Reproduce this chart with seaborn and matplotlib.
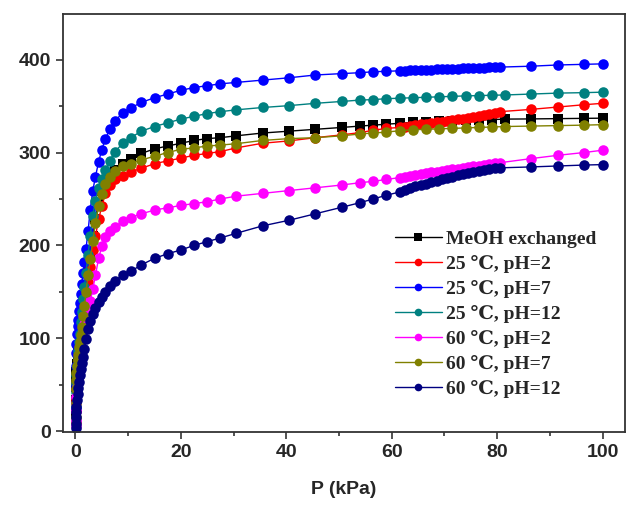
import matplotlib
matplotlib.use("Agg")
import matplotlib.pyplot as plt
import seaborn as sns
import pandas as pd
from matplotlib.ticker import MultipleLocator
from matplotlib.font_manager import FontProperties

# ---------------- data ----------------
labels = ["MeOH exchanged", "25 \u2103, pH=2", "25 \u2103, pH=7", "25 \u2103, pH=12",
          "60 \u2103, pH=2", "60 \u2103, pH=7", "60 \u2103, pH=12"]
colors = ["#000000", "#FF0000", "#0000FF", "#008080", "#FF00FF", "#808000", "#000080"]
markers_list = ["s", "o", "o", "o", "o", "o", "o"]

P_low = [0.02, 0.05, 0.1, 0.15, 0.2, 0.3, 0.4, 0.5, 0.65, 0.8, 1.0, 1.2, 1.45, 1.7,
         2.0, 2.4, 2.8, 3.3, 3.8, 4.4, 5.0, 5.7, 6.5, 7.5, 9.0, 10.5, 12.5, 15, 17.5,
         20, 22.5, 25, 27.5, 30.5, 35.5, 40.5, 45.5, 50.5, 54, 56.5, 59]
P_dense_tail = [61.5, 62.5, 63.5, 64.5, 65.5, 66.5, 67.5, 68.5, 69.5, 70.5, 71.5, 72.5,
                73.5, 74.5, 75.5, 76.5, 77.5, 78.5, 79.5, 80.5, 86.5, 91.5, 96.5, 100]
P_sparse_tail = [61.5, 64, 66.5, 69, 71.5, 74, 76.5, 79, 81.5, 86.5, 91.5, 96.5, 100]

q_meoh = [18, 33, 47, 57, 64, 72, 78, 84, 92, 98, 106, 116, 128, 140, 154, 172, 190, 210,
          228, 246, 259, 268, 275, 281, 288, 293, 299, 304, 307, 310, 313, 315, 316, 318,
          321, 323, 325, 327, 328.5, 329.5, 330.5,
          331.5, 332.5, 333, 333.5, 334, 334.5, 335, 335.5, 336, 336.2, 336.5, 336.8, 337]
q_25_ph2 = [10, 22, 35, 45, 52, 62, 70, 76, 84, 92, 100, 110, 120, 131, 143, 160, 177, 195,
            210, 228, 242, 256, 265, 271, 275, 279, 283, 288, 291, 294, 297, 299, 301, 305,
            310, 312.5, 316, 319, 321.5, 324, 326,
            327, 327.8, 328.6, 329.4, 330.2, 331, 331.8, 332.6, 333.4, 334.2, 335, 335.8,
            336.6, 337.4, 338.2, 339.5, 340.5, 341.5, 342.8, 344, 346.5, 349, 351.5, 353]
q_25_ph7 = [25, 48, 70, 84, 94, 105, 113, 120, 129, 138, 148, 158, 170, 182, 196, 215, 238,
            259, 274, 290, 303, 315, 325, 334, 343, 348, 354, 359, 363, 367, 370, 372, 374,
            375.5, 378, 380.5, 383.5, 385, 386, 387, 387.5,
            388, 388.3, 388.5, 388.8, 389, 389.2, 389.4, 389.6, 389.8, 390, 390.2, 390.4,
            390.6, 390.8, 391, 391.2, 391.4, 391.6, 391.8, 392, 393, 394.3, 395, 395.5]
q_25_ph12 = [12, 28, 42, 52, 60, 70, 78, 86, 96, 105, 117, 128, 142, 155, 170, 190, 210,
             232, 248, 262, 272, 281, 291, 301, 310, 316, 323, 328, 332, 336, 339, 342, 344,
             346, 348.5, 350.5, 353, 355, 356.5, 357, 358,
             358.5, 359, 359.5, 360, 360.5, 361, 361.3, 361.7, 362, 363, 364, 364.5, 365]
q_60_ph2 = [5, 12, 22, 30, 37, 47, 55, 62, 72, 80, 90, 98, 107, 115, 122, 131, 140, 153,
            168, 186, 199, 209, 215, 220, 226, 230, 234, 238, 240.5, 243, 245, 247, 250,
            253, 256, 259, 262, 265, 267.5, 269, 271,
            273, 274, 275, 276, 277, 277.8, 278.6, 279.4, 280.2, 281, 281.8, 282.6, 283.4,
            284.2, 285, 285.8, 286.6, 287.4, 288.2, 289, 293.5, 297, 300, 302.5]
q_60_ph7 = [15, 30, 45, 55, 62, 70, 76, 82, 90, 96, 103, 112, 124, 135, 150, 168, 185, 205,
            224, 242, 255, 266, 274, 280, 285, 288, 292, 296, 300, 303.5, 305, 307, 308,
            309.5, 313, 315, 316, 318, 320, 321, 322,
            323.5, 324.5, 325, 325.5, 326, 326.5, 327, 327.5, 328, 328.5, 329, 329.5, 330]
q_60_ph12 = [3, 8, 15, 21, 26, 33, 40, 46, 53, 60, 67, 73, 80, 88, 99, 110, 118, 126, 133,
             139, 144, 150, 156, 162, 168, 172, 179, 186, 191, 195, 200, 204, 208, 213, 221,
             227, 234, 241, 246, 250, 254,
             257.5, 259.5, 261.5, 263.5, 265, 266.5, 268, 269.5, 271, 272.5, 274, 275.5,
             276.8, 278, 279, 280, 281, 282, 282.8, 283.5, 284.5, 285.5, 286.5, 287]

P_dense = P_low + P_dense_tail
P_sparse = P_low + P_sparse_tail
series = [(q_meoh, P_sparse), (q_25_ph2, P_dense), (q_25_ph7, P_dense), (q_25_ph12, P_sparse),
          (q_60_ph2, P_dense), (q_60_ph7, P_sparse), (q_60_ph12, P_dense)]

rows = []
for lab, (q, p) in zip(labels, series):
    for pi, qi in zip(p, q):
        rows.append({"P": pi, "Q": qi, "series": lab})
df = pd.DataFrame(rows)

# ---------------- plot ----------------
sns.set_theme(style="white")
plt.rcParams['font.family'] = ['Liberation Sans', 'DejaVu Sans']

fig = plt.figure(figsize=(6.28, 5.07), dpi=100)
ax = fig.add_axes([0.1008, 0.148, 0.894, 0.824])

sns.lineplot(data=df, x="P", y="Q", hue="series", style="series",
             hue_order=labels, style_order=labels,
             palette=dict(zip(labels, colors)),
             markers=dict(zip(labels, markers_list)), dashes=False,
             sort=False, estimator=None, linewidth=1.0,
             markersize=7.6, markeredgewidth=0, ax=ax, legend=True)

ax.set_xlim(-2.3, 104.2)
ax.set_ylim(-1, 449)
ax.xaxis.set_major_locator(MultipleLocator(20))
ax.xaxis.set_minor_locator(MultipleLocator(10))
ax.yaxis.set_major_locator(MultipleLocator(100))
ax.yaxis.set_minor_locator(MultipleLocator(50))
ax.tick_params(which="both", direction="out", top=False, right=False,
               bottom=True, left=True, color="#333333", width=1.2)
ax.tick_params(which="major", length=5, labelsize=14, pad=4)
ax.tick_params(which="minor", length=3)
for lab in ax.get_xticklabels() + ax.get_yticklabels():
    lab.set_fontweight("bold")
for sp in ax.spines.values():
    sp.set_color("#333333")
    sp.set_linewidth(1.3)

ax.set_xlabel("P (kPa)", fontsize=14, fontweight="bold", labelpad=14)
ax.set_ylabel("")

handles, labs = ax.get_legend_handles_labels()
for h in handles:
    h.set_markersize(5.5)
    h.set_markeredgewidth(0)
    h.set_linewidth(1.0)
ax.legend(handles, labs, loc="upper left",
          bbox_to_anchor=(395 / 628, 1 - 230 / 507), bbox_transform=fig.transFigure,
          frameon=False, borderpad=0, borderaxespad=0, handlelength=2.4,
          handletextpad=0.2, labelspacing=0.36,
          prop=FontProperties(family=['Liberation Serif', 'DejaVu Serif'],
                              weight='bold', size=14))

fig.savefig("out.png", dpi=100)
